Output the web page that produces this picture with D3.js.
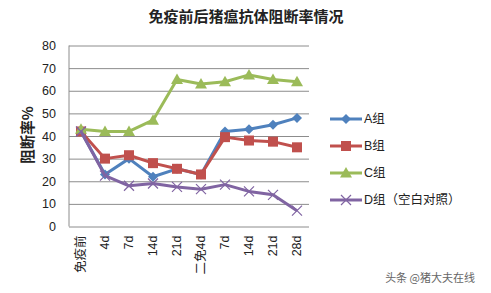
<!doctype html>
<html lang="zh">
<head>
<meta charset="utf-8">
<title>免疫前后猪瘟抗体阻断率情况</title>
<script src="https://d3js.org/d3.v7.min.js"></script>
<style>
  body { margin: 0; background: #fff; }
  svg { display: block; font-family: "Liberation Sans", Arial, "Noto Sans CJK SC", sans-serif; }
  .grid line { stroke: #8c8c8c; stroke-width: 1; }
  .grid .domain { display: none; }
</style>
</head>
<body>
<svg id="main" width="491" height="293"></svg>
<script>
// data
let categories = ['免疫前', '4d', '7d', '14d', '21d', '二免4d', '7d', '14d', '21d', '28d'];
let groupA = [42, 23, 30, 22, 25.5, 23, 42, 43, 45, 48];
let groupB = [42, 30, 31.5, 28, 25.5, 23, 39.5, 38, 37.5, 35];
let groupC = [43, 42, 42, 47, 65, 63, 64, 67, 65, 64];
let groupD = [42, 22.5, 18, 19, 17.5, 16.5, 18.5, 15.5, 14, 7];
let seriesNames = ['A组', 'B组', 'C组', 'D组（空白对照）'];
let yTicks = [0, 10, 20, 30, 40, 50, 60, 70, 80];

let colors = ['#4f81bd', '#c0504d', '#9bbb59', '#8064a2'];
let shapes = ['diamond', 'square', 'triangle', 'cross'];
let allSeries = [groupA, groupB, groupC, groupD];

let svg = d3.select('#main');
let x_range = [69, 309];
let y_range = [226.5, 45.5];

// categories are indexed so repeated labels (7d, 14d...) stay distinct
let x_scale = d3.scaleBand().domain(d3.range(categories.length)).range(x_range);
let y_scale = d3.scaleLinear().domain([0, 80]).range(y_range);
let xc = i => x_scale(i) + x_scale.bandwidth() / 2;

// title
svg.append('text')
  .attr('x', 246).attr('y', 22)
  .attr('text-anchor', 'middle')
  .attr('font-size', 15).attr('font-weight', 'bold')
  .attr('font-family', '"Noto Sans CJK SC", sans-serif')
  .attr('fill', '#222')
  .text('免疫前后猪瘟抗体阻断率情况');

// horizontal gridlines
svg.append('g').attr('class', 'grid')
  .attr('transform', `translate(${x_range[0]},0)`)
  .call(d3.axisRight(y_scale).tickValues(yTicks).tickSize(x_range[1] - x_range[0]).tickFormat(''));

// left axis line
svg.append('line')
  .attr('x1', x_range[0]).attr('x2', x_range[0])
  .attr('y1', y_range[1]).attr('y2', y_range[0])
  .attr('stroke', '#8c8c8c');

// y tick labels
svg.append('g')
  .attr('transform', `translate(${x_range[0]},0)`)
  .call(d3.axisLeft(y_scale).tickValues(yTicks).tickSize(0).tickPadding(13))
  .call(g => g.select('.domain').remove())
  .call(g => g.selectAll('text').attr('font-size', 12.5).attr('fill', '#222')
    .attr('font-family', '"Liberation Sans", Arial, sans-serif'));

// y title
svg.append('text')
  .attr('transform', 'translate(28,135) rotate(-90)')
  .attr('text-anchor', 'middle')
  .attr('dy', '0.35em')
  .attr('font-size', 14.5).attr('font-weight', 'bold')
  .attr('font-family', '"Noto Sans CJK SC", sans-serif')
  .attr('fill', '#222')
  .text('阻断率%');

// x labels, rotated
svg.append('g')
  .attr('transform', `translate(0,${y_range[0]})`)
  .call(d3.axisBottom(x_scale).tickSize(0).tickFormat(i => categories[i]))
  .call(g => g.select('.domain').remove())
  .call(g => g.selectAll('text')
    .attr('font-size', 12.5).attr('fill', '#222')
    .attr('font-family', '"Liberation Sans", "Noto Sans CJK SC", sans-serif')
    .attr('text-anchor', 'end')
    .attr('dy', '0.35em')
    .attr('transform', 'translate(0,9) rotate(-90)')
    .attr('x', 0).attr('y', 0));

function marker(g, shape, color, cx, cy) {
  if (shape === 'diamond') {
    g.append('path').attr('d', `M${cx},${cy - 5}L${cx + 5},${cy}L${cx},${cy + 5}L${cx - 5},${cy}Z`).attr('fill', color);
  } else if (shape === 'square') {
    g.append('rect').attr('x', cx - 5).attr('y', cy - 5).attr('width', 10).attr('height', 10).attr('fill', color);
  } else if (shape === 'triangle') {
    g.append('path').attr('d', `M${cx},${cy - 6}L${cx + 6},${cy + 4.5}L${cx - 6},${cy + 4.5}Z`).attr('fill', color);
  } else {
    g.append('path').attr('d', `M${cx - 5},${cy - 5}L${cx + 5},${cy + 5}M${cx - 5},${cy + 5}L${cx + 5},${cy - 5}`)
      .attr('stroke', color).attr('stroke-width', 1.2).attr('fill', 'none');
  }
}

let line = d3.line().x((d, i) => xc(i)).y(d => y_scale(d));

allSeries.forEach((vals, s) => {
  let g = svg.append('g');
  g.append('path').datum(vals)
    .attr('d', line)
    .attr('fill', 'none')
    .attr('stroke', colors[s])
    .attr('stroke-width', 3)
    .attr('stroke-linejoin', 'round');
  vals.forEach((v, i) => marker(g, shapes[s], colors[s], xc(i), y_scale(v)));
});

// legend
let legendY = d3.scalePoint().domain(d3.range(seriesNames.length)).range([119, 200]);
seriesNames.forEach((name, s) => {
  let g = svg.append('g');
  let y = legendY(s);
  g.append('line').attr('x1', 330).attr('x2', 362).attr('y1', y).attr('y2', y)
    .attr('stroke', colors[s]).attr('stroke-width', 3);
  marker(g, shapes[s], colors[s], 346, y);
  g.append('text').attr('x', 364).attr('y', y).attr('dy', '0.35em')
    .attr('font-size', 12.5).attr('fill', '#222')
    .attr('font-family', '"Liberation Sans", "Noto Sans CJK SC", sans-serif')
    .text(name);
});

// watermark
svg.append('text')
  .attr('x', 475).attr('y', 282)
  .attr('text-anchor', 'end')
  .attr('font-size', 11).attr('fill', '#666')
  .attr('font-family', '"Noto Sans CJK SC", sans-serif')
  .text('头条 @猪大夫在线');
</script>
</body>
</html>
